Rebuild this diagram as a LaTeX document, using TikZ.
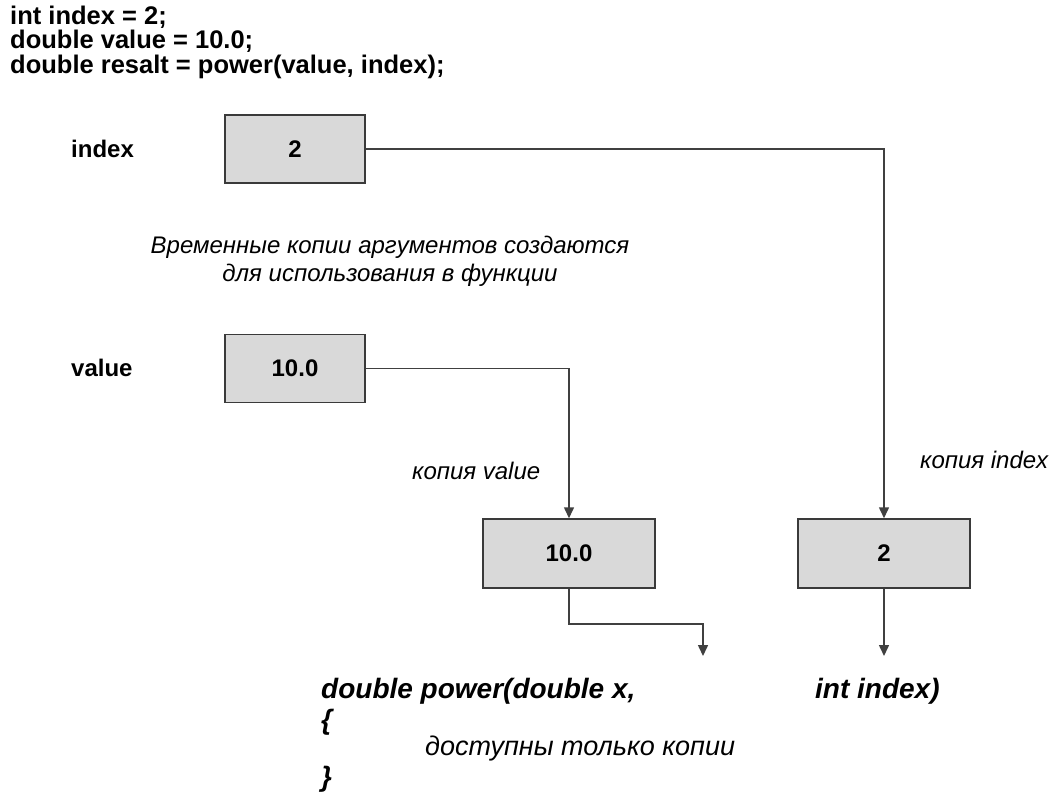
\documentclass[tikz,border=0pt]{standalone}
\usepackage{fontspec}
\setmainfont{Liberation Sans}
\usetikzlibrary{arrows.meta}
\definecolor{boxfill}{HTML}{D9D9D9}
\definecolor{boxline}{HTML}{3A3A3A}
\definecolor{linkcol}{HTML}{404040}
\begin{document}
\begin{tikzpicture}[x=1pt,y=-1pt,
  cell/.style={draw=boxline, fill=boxfill, line width=1.5pt, inner sep=0pt,
    font=\fontsize{24}{24}\selectfont\bfseries},
  argcell/.style={cell, minimum width=140pt, minimum height=68pt},
  copycell/.style={cell, minimum width=172pt, minimum height=69pt},
  link/.style={draw=linkcol, line width=1.5pt,
    -{Triangle[width=10pt,length=11pt]}},
  code/.style={anchor=base west, inner sep=0pt,
    font=\fontsize{25.5}{25.5}\selectfont\bfseries},
  varname/.style={anchor=base west, inner sep=0pt,
    font=\fontsize{24}{24}\selectfont\bfseries},
  remark/.style={inner sep=0pt, font=\fontsize{24}{24}\selectfont\itshape},
  bodytext/.style={anchor=base west, inner sep=0pt,
    font=\fontsize{27}{27}\selectfont\itshape},
  signature/.style={anchor=base west, inner sep=0pt,
    font=\fontsize{28}{28}\selectfont\bfseries\itshape}
]
\path[use as bounding box] (0,0) rectangle (1053,798);

% calling code
\node[code] (c1) at (10,24) {int index = 2;};
\node[code] (c2) at (10,48.5) {double value = 10.0;};
\node[code] (c3) at (10,73) {double resalt = power(value, index);};

% caller's variables
\node[varname] (lidx) at (71,157) {index};
\node[argcell] (ib) at (295,149) {2};
\node[varname] (lval) at (71,376) {value};
\node[argcell] (vb) at (295,368.5) {10.0};

% explanation
\node[remark, anchor=base] (note1) at (390,253) {Временные копии аргументов создаются};
\node[remark, anchor=base] (note2) at (390,281) {для использования в функции};

% copies handed to the function
\node[copycell] (cv) at (569,553.5) {10.0};
\node[copycell] (ci) at (884,553.5) {2};
\node[remark, anchor=base west] (lcv) at (412,479) {копия value};
\node[remark, anchor=base west] (lci) at (920,468) {копия index};

% function header
\node[signature] (sig1) at (321,698) {double power(double x,};
\node[signature] (sig2) at (815,698) {int index)};
\node[signature] (open) at (321,729) {\{};
\node[bodytext] (body) at (425,755) {доступны только копии};
\node[signature] (close) at (321,786) {\}};

% parameter entry points
\coordinate (xarg) at (703,656);
\coordinate (narg) at (884,656);

% connectors
\draw[link] (ib.east) -| (ci.north);
\draw[link] (vb.east) -| (cv.north);
\draw[link] (cv.south) -- ++(0,35) -| (xarg);
\draw[link] (ci.south) -- (narg);
\end{tikzpicture}
\end{document}
